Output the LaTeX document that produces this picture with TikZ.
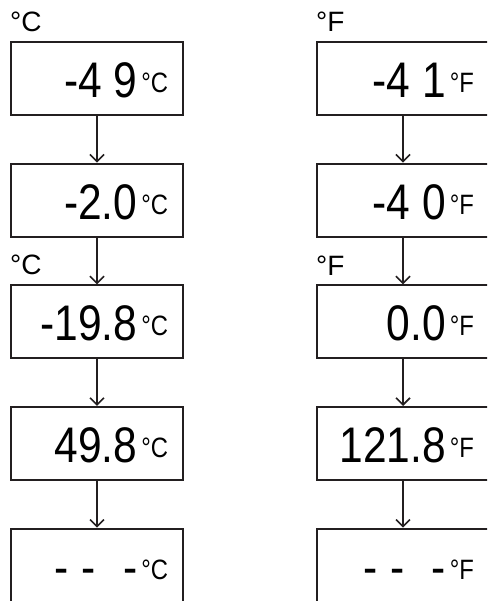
\documentclass[tikz,border=0pt]{standalone}
\usepackage{fontspec}
\setmainfont{Liberation Sans}
\newfontfamily\lcdfont[FakeStretch=0.85]{Liberation Sans}
\usepackage{tikz}
\usetikzlibrary{positioning, arrows.meta}
\usepackage{xcolor}
\definecolor{lcdframe}{RGB}{35, 31, 32}
% unit shown at the right of each display
\newcommand{\unitC}{\kern4pt\raisebox{5pt}{\fontsize{28}{30}\selectfont °C}}
\newcommand{\unitF}{\kern4pt\raisebox{5pt}{\fontsize{28}{30}\selectfont °F}}
\newcommand{\lcd}[1]{\makebox[142pt][r]{#1}}

\begin{document}
\begin{tikzpicture}[
    display/.style={draw=lcdframe, line width=2.2pt, minimum width=172pt,
      minimum height=73pt, inner xsep=15pt, inner ysep=0pt,
      text height=38pt, text depth=0pt, font=\lcdfont\fontsize{50}{56}\selectfont},
    unitlab/.style={inner sep=0pt, font=\fontsize{28}{30}\selectfont},
    flow/.style={-{Straight Barb[length=7pt, width=14pt]}, line width=1.6pt, lcdframe},
    node distance=46.5pt and 131.8pt]
  \clip (0,0) rectangle (487pt, 601pt);

  % Celsius column
  \node[display] (c1) at (97pt, 522.5pt) {\lcd{-4\ 9\unitC}};
  \node[display, below=of c1] (c2) {\lcd{-2.0\unitC}};
  \node[display, below=of c2] (c3) {\lcd{-19.8\unitC}};
  \node[display, below=of c3] (c4) {\lcd{49.8\unitC}};
  \node[display, below=of c4] (c5) {\lcd{-\hspace{.25em}-\hspace{.55em}-\unitC}};

  % Fahrenheit column
  \node[display, right=of c1] (f1) {\lcd{-4\ 1\unitF}};
  \node[display, below=of f1] (f2) {\lcd{-4\ 0\unitF}};
  \node[display, below=of f2] (f3) {\lcd{0.0\unitF}};
  \node[display, below=of f3] (f4) {\lcd{121.8\unitF}};
  \node[display, below=of f4] (f5) {\lcd{-\hspace{.25em}-\hspace{.55em}-\unitF}};

  % unit tags above the ranges
  \node[unitlab, above right=9pt and 0pt of c1.north west] (tc1) {°C};
  \node[unitlab, above right=9pt and 0pt of c3.north west] (tc3) {°C};
  \node[unitlab, above right=9pt and 0pt of f1.north west] (tf1) {°F};
  \node[unitlab, above right=9pt and 0pt of f3.north west] (tf3) {°F};

  % Arrows
  \foreach \i/\j in {1/2, 2/3, 3/4, 4/5} {
    \draw[flow] (c\i) -- (c\j);
    \draw[flow] (f\i) -- (f\j);
  }
\end{tikzpicture}
\end{document}
